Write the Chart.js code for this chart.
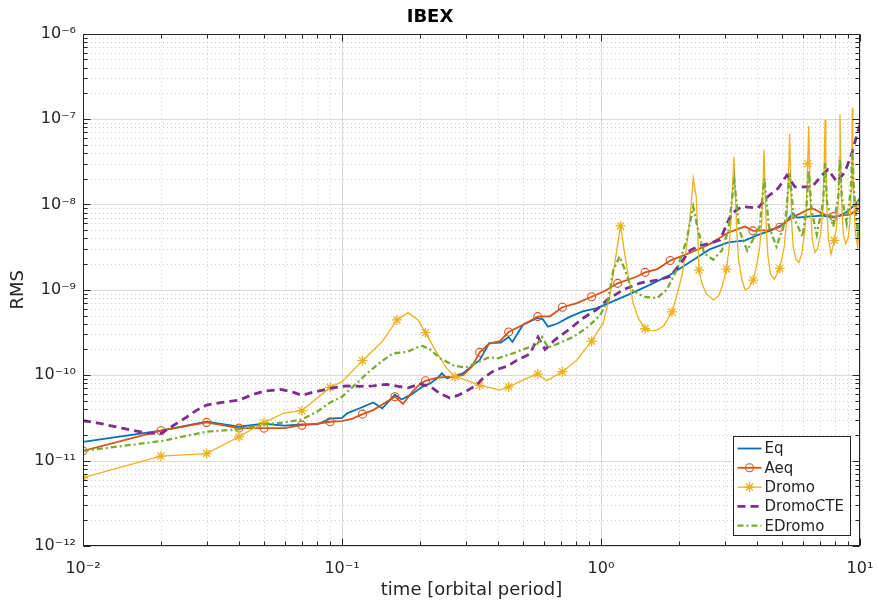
<!DOCTYPE html>
<html><head><meta charset="utf-8">
<script src="https://cdn.jsdelivr.net/npm/chart.js@4.4.1/dist/chart.umd.min.js"></script>
<style>html,body{margin:0;padding:0;background:#fff;}#wrap{width:879px;height:602px;position:relative;}</style>
</head><body><div id="wrap"><canvas id="c"></canvas></div>
<script>
// ---------------- data ----------------
const chartTitle = 'IBEX';
const xLabel = 'time [orbital period]';
const yLabel = 'RMS';
const seriesNames = ['Eq', 'Aeq', 'Dromo', 'DromoCTE', 'EDromo'];
const xDecades = [-2, -1, 0, 1];
const yDecades = [-12, -11, -10, -9, -8, -7, -6];

const eqTime = [0.01,0.02,0.03,0.04,0.05,0.06,0.07,0.08,0.09,0.1,0.105,0.117,0.132,0.143,0.16,0.17,0.186,0.204,0.219,0.233,0.243,0.254,0.273,0.293,0.32,0.34,0.37,0.41,0.44,0.455,0.5,0.566,0.597,0.624,0.676,0.76,0.85,0.965,1.06,1.29,1.55,1.85,2.2,2.64,3.1,3.6,4.04,4.57,5.13,5.51,5.71,6.3,7.13,8.0,8.75,9.56,10];
const eqRms = [1.66e-11,2.24e-11,2.85e-11,2.5e-11,2.7e-11,2.57e-11,2.65e-11,2.65e-11,3.1e-11,3.16e-11,3.6e-11,4.1e-11,4.8e-11,4.1e-11,5.9e-11,5.2e-11,6.0e-11,7.3e-11,8.0e-11,9.2e-11,1.05e-10,9.2e-11,9.8e-11,1.05e-10,1.31e-10,1.5e-10,2.37e-10,2.4e-10,2.8e-10,2.45e-10,3.9e-10,4.66e-10,4.5e-10,3.7e-10,4.0e-10,4.85e-10,5.6e-10,6.1e-10,6.9e-10,8.9e-10,1.15e-9,1.5e-9,2.1e-9,3.0e-9,3.6e-9,3.8e-9,4.4e-9,5.0e-9,6.0e-9,7.9e-9,7.0e-9,7.2e-9,7.4e-9,7.0e-9,7.9e-9,9.9e-9,1.18e-8];

const aeqTime = [0.01,0.02,0.03,0.04,0.05,0.06,0.07,0.08,0.09,0.1,0.11,0.12,0.132,0.144,0.16,0.172,0.186,0.2,0.21,0.235,0.268,0.293,0.318,0.34,0.37,0.407,0.44,0.5,0.57,0.635,0.71,0.808,0.92,1.03,1.16,1.377,1.48,1.65,1.85,2.2,2.64,3.07,3.29,3.6,3.86,4.41,4.9,5.13,5.76,6.5,7.33,7.9,9.15,10];
const aeqRms = [1.3e-11,2.24e-11,2.8e-11,2.4e-11,2.4e-11,2.4e-11,2.6e-11,2.7e-11,2.85e-11,2.9e-11,3.1e-11,3.5e-11,3.9e-11,4.6e-11,5.6e-11,4.6e-11,6.3e-11,7.9e-11,8.6e-11,9.4e-11,9.6e-11,1.0e-10,1.27e-10,1.85e-10,2.35e-10,2.5e-10,3.2e-10,3.9e-10,4.85e-10,4.9e-10,6.25e-10,7.0e-10,8.3e-10,9.6e-10,1.19e-9,1.43e-9,1.6e-9,1.75e-9,2.2e-9,2.7e-9,3.45e-9,4.6e-9,5.0e-9,5.5e-9,4.9e-9,5.0e-9,5.4e-9,6.2e-9,7.6e-9,9.1e-9,7.6e-9,7.2e-9,7.6e-9,9.1e-9];
const aeqMarks = [0.01,0.02,0.03,0.04,0.05,0.07,0.09,0.12,0.16,0.21,0.34,0.44,0.57,0.71,0.92,1.16,1.48,1.85,3.86,4.9,7.9,10];

const dromoTime = [0.01,0.02,0.03,0.04,0.05,0.06,0.07,0.09,0.1,0.12,
  0.143,0.163,0.18,0.197,0.21,0.233,0.254,0.273,0.3,0.34,
  0.407,0.44,0.516,0.57,0.617,0.71,0.806,0.92,1.02,1.08,
  1.15,1.19,1.25,1.33,1.4,1.48,1.56,1.65,1.75,1.88,
  1.96,2.05,2.12,2.18,2.23,2.27,2.33,2.37,2.39,2.45,
  2.55,2.71,2.85,2.95,3.05,3.12,3.18,3.22,3.26,3.3,
  3.34,3.4,3.5,3.6,3.72,3.87,4.0,4.1,4.17,4.22,
  4.26,4.3,4.35,4.41,4.52,4.67,4.9,5.1,5.22,5.29,
  5.35,5.4,5.45,5.52,5.65,5.81,5.95,6.1,6.2,6.28,
  6.34,6.39,6.45,6.55,6.7,6.85,7.05,7.2,7.28,7.33,
  7.38,7.45,7.55,7.73,7.96,8.12,8.25,8.32,8.37,8.42,
  8.5,8.62,8.8,9.0,9.15,9.25,9.3,9.34,9.38,9.45,
  9.6,9.8,9.92,10];
const dromoRms = [6.3e-12,1.13e-11,1.21e-11,1.9e-11,2.78e-11,3.63e-11,3.84e-11,7.2e-11,8.4e-11,1.48e-10,
  2.47e-10,4.44e-10,5.4e-10,4.4e-10,3.15e-10,1.8e-10,1.2e-10,9.6e-11,8.8e-11,7.6e-11,
  6.7e-11,7.3e-11,9.2e-11,1.03e-10,8.6e-11,1.1e-10,1.5e-10,2.5e-10,4.1e-10,8.3e-10,
  2.9e-9,5.6e-9,2.05e-9,7e-10,4.5e-10,3.5e-10,3.3e-10,3.4e-10,3.8e-10,5.5e-10,
  8.5e-10,1.43e-9,2.6e-9,5.0e-9,1.0e-8,2.05e-8,1.24e-8,3.85e-9,1.7e-9,1.2e-9,
  9e-10,7.6e-10,8.5e-10,1.15e-9,1.75e-9,3e-9,7e-9,1.6e-8,3.6e-8,1.5e-8,
  5e-9,2.2e-9,1.3e-9,1.0e-9,1.05e-9,1.3e-9,2e-9,3.2e-9,6e-9,1.6e-8,
  4.4e-8,1.5e-8,5e-9,2.5e-9,1.5e-9,1.33e-9,1.78e-9,3.2e-9,7e-9,2.0e-8,
  6.7e-8,2.0e-8,6e-9,3.2e-9,2.3e-9,2.08e-9,2.6e-9,4.5e-9,8e-9,3.0e-8,
  8.3e-8,2.5e-8,8e-9,3.8e-9,2.73e-9,3e-9,4.5e-9,9e-9,3.2e-8,9.8e-8,
  3.2e-8,9e-9,4e-9,2.6e-9,3.8e-9,5.5e-9,1.1e-8,3.6e-8,1.14e-7,3.6e-8,
  1e-8,4.5e-9,3.45e-9,4e-9,6.5e-9,1.5e-8,4e-8,1.35e-7,4e-8,1.2e-8,
  4.5e-9,3.2e-9,5e-9,1.0e-8];
const dromoMarks = [0.01,0.02,0.03,0.04,0.05,0.07,0.09,0.12,0.163,0.21,0.273,0.34,0.44,0.57,0.71,0.92,1.19,1.48,1.88,2.39,3.05,3.87,4.9,6.28,7.96,10];

const cteTime = [0.01,0.0116,0.0143,0.0177,0.02,0.023,0.025,0.0275,0.03,0.034,0.04,0.045,0.05,0.058,0.065,0.07,0.077,0.09,0.104,0.117,0.132,0.149,0.165,0.18,0.2,0.219,0.239,0.261,0.28,0.304,0.332,0.35,0.39,0.434,0.474,0.532,0.571,0.608,0.664,0.759,0.852,0.965,1.055,1.216,1.415,1.645,1.847,2.018,2.207,2.411,2.636,2.881,3.093,3.205,3.5,4.04,4.41,4.83,5.22,5.61,5.97,6.53,7.13,7.52,8.15,8.75,9.31,9.82,10];
const cteRms = [2.93e-11,2.73e-11,2.38e-11,2.1e-11,2.08e-11,2.73e-11,3.2e-11,3.9e-11,4.47e-11,4.78e-11,5.1e-11,5.9e-11,6.5e-11,6.8e-11,6.3e-11,5.8e-11,6.3e-11,7.0e-11,7.5e-11,7.4e-11,7.5e-11,7.8e-11,7.4e-11,7.1e-11,7.9e-11,7.4e-11,6.1e-11,5.4e-11,5.8e-11,6.6e-11,7.7e-11,9.2e-11,1.15e-10,1.27e-10,1.5e-10,1.78e-10,2.8e-10,2.0e-10,2.6e-10,3.5e-10,4.65e-10,5.9e-10,7.6e-10,1.0e-9,1.2e-9,1.3e-9,1.43e-9,2.0e-9,2.9e-9,3.3e-9,3.5e-9,3.85e-9,6.3e-9,7.9e-9,9.4e-9,9.1e-9,1.24e-8,1.54e-8,2.2e-8,1.6e-8,1.6e-8,1.6e-8,2.2e-8,2.55e-8,1.84e-8,2.4e-8,4.0e-8,7.2e-8,8.6e-8];

const edTime = [0.01,0.02,0.03,0.04,0.05,0.06,0.07,0.08,0.09,0.1,
  0.11,0.125,0.143,0.157,0.178,0.196,0.205,0.219,0.239,0.27,
  0.3,0.34,0.37,0.4,0.457,0.5,0.566,0.592,0.624,0.695,
  0.78,0.883,0.991,1.065,1.116,1.18,1.238,1.314,1.457,1.645,
  1.794,1.96,2.142,2.27,2.37,2.5,2.71,2.93,3.1,3.27,
  3.42,3.67,4.1,4.27,4.45,4.76,5.15,5.35,5.55,6.0,
  6.2,6.34,6.5,6.81,7.2,7.33,7.46,7.89,8.25,8.37,
  8.5,8.88,9.22,9.34,9.47,9.8,10];
const edRms = [1.3e-11,1.69e-11,2.18e-11,2.32e-11,2.66e-11,2.8e-11,3.04e-11,3.73e-11,4.8e-11,5.6e-11,
  7.3e-11,1.05e-10,1.47e-10,1.8e-10,1.87e-10,2.12e-10,2.2e-10,2.0e-10,1.58e-10,1.3e-10,
  1.23e-10,1.45e-10,1.62e-10,1.58e-10,1.8e-10,2.0e-10,2.3e-10,2.8e-10,2.1e-10,2.4e-10,
  2.8e-10,3.6e-10,5.0e-10,7.6e-10,1.7e-9,2.45e-9,1.7e-9,1.0e-9,8.3e-10,8.0e-10,
  1.0e-9,1.7e-9,3.85e-9,9.4e-9,5.0e-9,2.7e-9,2.25e-9,2.9e-9,5.0e-9,1.9e-8,
  5.0e-9,2.88e-9,5.5e-9,2.0e-8,5.5e-9,3.2e-9,6.5e-9,2.33e-8,7e-9,4.2e-9,
  8.5e-9,2.5e-8,8.5e-9,4.4e-9,1.05e-8,3.05e-8,1.05e-8,5.5e-9,1.25e-8,3.33e-8,
  1.25e-8,6.0e-9,1.5e-8,4.4e-8,1.5e-8,4.6e-9,6e-9];

// ---------------- helpers ----------------
const AX = '#262626';
const FONT = 'DejaVu Sans';
const pairs = (t, v) => t.map((x, i) => ({x: x, y: v[i]}));
const isDecade = v => Math.abs(Math.log10(v) - Math.round(Math.log10(v))) < 1e-6;
const SUP = {'-':'\u207B','0':'\u2070','1':'\u00B9','2':'\u00B2','3':'\u00B3','4':'\u2074','5':'\u2075','6':'\u2076','7':'\u2077','8':'\u2078','9':'\u2079'};
const powLabel = v => '10' + String(Math.round(Math.log10(v))).split('').map(c => SUP[c]).join('');
function logTicks(decades) {
  const out = [];
  decades.forEach((e, i) => {
    for (let m = 1; m <= 9; m++) {
      if (i === decades.length - 1 && m > 1) break;
      out.push({value: m * Math.pow(10, e)});
    }
  });
  return out;
}
const markRadius = (marks, r) => ctx => (ctx.raw && marks.some(m => Math.abs(m - ctx.raw.x) < 1e-9)) ? r : 0;

const colors = ['#0072BD', '#D95319', '#EDB120', '#7E2F8E', '#77AC30'];

const datasets = [
  {label: seriesNames[0], data: pairs(eqTime, eqRms), borderColor: colors[0], borderWidth: 1.8, pointRadius: 0, order: 4},
  {label: seriesNames[1], data: pairs(aeqTime, aeqRms), borderColor: colors[1], borderWidth: 1.8,
    pointStyle: 'circle', pointRadius: markRadius(aeqMarks, 4), pointBorderColor: colors[1], pointBackgroundColor: 'rgba(0,0,0,0)', pointBorderWidth: 1.1, order: 3},
  {label: seriesNames[2], data: pairs(dromoTime, dromoRms), borderColor: colors[2], borderWidth: 1.3,
    pointStyle: 'star', pointRadius: markRadius(dromoMarks, 5), pointBorderColor: colors[2], pointBackgroundColor: colors[2], pointBorderWidth: 1.3, order: 2},
  {label: seriesNames[3], data: pairs(cteTime, cteRms), borderColor: colors[3], borderWidth: 2.8, borderDash: [8, 5], pointRadius: 0, order: 1},
  {label: seriesNames[4], data: pairs(edTime, edRms), borderColor: colors[4], borderWidth: 2.3, borderDash: [6, 3, 2, 3], pointRadius: 0, order: 0}
];
datasets.forEach(d => { d.fill = false; d.tension = 0; d.pointHoverRadius = 0; });

// ---------------- plugin: MATLAB-like grid, box, inner ticks, legend ----------------
const matlabAxes = {
  id: 'matlabAxes',
  beforeDatasetsDraw(chart) {
    const {ctx, chartArea: a, scales} = chart;
    ctx.save();
    ctx.lineWidth = 1;
    const drawSet = (major) => {
      ctx.setLineDash(major ? [] : [1, 3]);
      ctx.strokeStyle = major ? 'rgba(38,38,38,0.17)' : 'rgba(38,38,38,0.22)';
      scales.x.ticks.forEach(t => {
        if (isDecade(t.value) !== major) return;
        const x = Math.round(scales.x.getPixelForValue(t.value)) + 0.5;
        ctx.beginPath(); ctx.moveTo(x, a.top); ctx.lineTo(x, a.bottom); ctx.stroke();
      });
      scales.y.ticks.forEach(t => {
        if (isDecade(t.value) !== major) return;
        const y = Math.round(scales.y.getPixelForValue(t.value)) + 0.5;
        ctx.beginPath(); ctx.moveTo(a.left, y); ctx.lineTo(a.right, y); ctx.stroke();
      });
    };
    drawSet(false);
    drawSet(true);
    ctx.restore();
  },
  afterDatasetsDraw(chart) {
    const {ctx, chartArea: a, scales} = chart;
    ctx.save();
    ctx.setLineDash([]);
    ctx.strokeStyle = AX;
    ctx.lineWidth = 1;
    const L = Math.round(a.left) + 0.5, R = Math.round(a.right) - 0.5;
    const T = Math.round(a.top) + 0.5, B = Math.round(a.bottom) - 0.5;
    ctx.strokeRect(L, T, R - L, B - T);
    ctx.beginPath();
    scales.x.ticks.forEach(t => {
      const len = isDecade(t.value) ? 7 : 4;
      const x = Math.round(scales.x.getPixelForValue(t.value)) + 0.5;
      ctx.moveTo(x, B); ctx.lineTo(x, B - len);
      ctx.moveTo(x, T); ctx.lineTo(x, T + len);
    });
    scales.y.ticks.forEach(t => {
      const len = isDecade(t.value) ? 7 : 4;
      const y = Math.round(scales.y.getPixelForValue(t.value)) + 0.5;
      ctx.moveTo(L, y); ctx.lineTo(L + len, y);
      ctx.moveTo(R, y); ctx.lineTo(R - len, y);
    });
    ctx.stroke();

    // legend box (bottom-right, inside axes)
    const lw = 117, lh = 99;
    const lx = Math.round(a.right - 127) + 0.5, ly = Math.round(a.bottom - 110) + 0.5;
    ctx.fillStyle = '#ffffff';
    ctx.fillRect(lx, ly, lw, lh);
    ctx.strokeStyle = AX;
    ctx.lineWidth = 1;
    ctx.strokeRect(lx, ly, lw, lh);
    ctx.font = '15px "' + FONT + '"';
    ctx.textBaseline = 'middle';
    ctx.textAlign = 'left';
    chart.data.datasets.forEach((d, i) => {
      const y = ly + 12 + i * 19.3;
      ctx.save();
      ctx.strokeStyle = d.borderColor;
      ctx.lineWidth = d.borderWidth;
      ctx.setLineDash(d.borderDash || []);
      ctx.beginPath(); ctx.moveTo(lx + 4, y); ctx.lineTo(lx + 28, y); ctx.stroke();
      ctx.setLineDash([]);
      const cx = lx + 16;
      if (d.pointStyle === 'circle') {
        ctx.lineWidth = 1.1;
        ctx.beginPath(); ctx.arc(cx, y, 4, 0, Math.PI * 2); ctx.stroke();
      } else if (d.pointStyle === 'star') {
        ctx.lineWidth = 1.3;
        ctx.beginPath();
        for (let k = 0; k < 4; k++) {
          const ang = k * Math.PI / 4;
          ctx.moveTo(cx - 5 * Math.cos(ang), y - 5 * Math.sin(ang));
          ctx.lineTo(cx + 5 * Math.cos(ang), y + 5 * Math.sin(ang));
        }
        ctx.stroke();
      }
      ctx.restore();
      ctx.fillStyle = AX;
      ctx.fillText(d.label, lx + 31, y + 1);
    });
    ctx.restore();
  }
};

Chart.defaults.font.family = FONT;
Chart.defaults.color = AX;

new Chart(document.getElementById('c'), {
  type: 'line',
  data: {datasets: datasets},
  plugins: [matlabAxes],
  options: {
    responsive: true,
    maintainAspectRatio: false,
    devicePixelRatio: 1,
    animation: false,
    events: [],
    layout: {padding: {left: 0, right: 19, top: 0, bottom: 0}},
    plugins: {
      legend: {display: false},
      tooltip: {enabled: false},
      title: {display: true, text: chartTitle, color: '#000000', font: {family: FONT, size: 18, weight: 'bold'}, padding: {top: 7, bottom: 5}}
    },
    scales: {
      x: {
        type: 'logarithmic', min: Math.pow(10, xDecades[0]), max: Math.pow(10, xDecades[xDecades.length - 1]),
        afterBuildTicks: s => { s.ticks = logTicks(xDecades); },
        afterFit: s => { s.height = 56; s.paddingLeft = 0; s.paddingRight = 0; },
        grid: {display: false, drawTicks: false, tickLength: 0},
        border: {display: false},
        ticks: {autoSkip: false, maxRotation: 0, padding: 13, color: AX, font: {family: FONT, size: 16},
          callback: v => isDecade(v) ? powLabel(v) : ''},
        title: {display: true, text: xLabel, color: AX, font: {family: FONT, size: 18}, padding: {top: 1, bottom: 1}}
      },
      y: {
        type: 'logarithmic', min: Math.pow(10, yDecades[0]), max: Math.pow(10, yDecades[yDecades.length - 1]),
        afterBuildTicks: s => { s.ticks = logTicks(yDecades); },
        afterFit: s => { s.width = 83; s.paddingTop = 0; s.paddingBottom = 0; },
        grid: {display: false, drawTicks: false, tickLength: 0},
        border: {display: false},
        ticks: {autoSkip: false, padding: 7, color: AX, font: {family: FONT, size: 16},
          callback: v => isDecade(v) ? powLabel(v) : ''},
        title: {display: true, text: yLabel, color: AX, font: {family: FONT, size: 18}, padding: {top: 8, bottom: 2}}
      }
    }
  }
});
</script>
</body></html>
